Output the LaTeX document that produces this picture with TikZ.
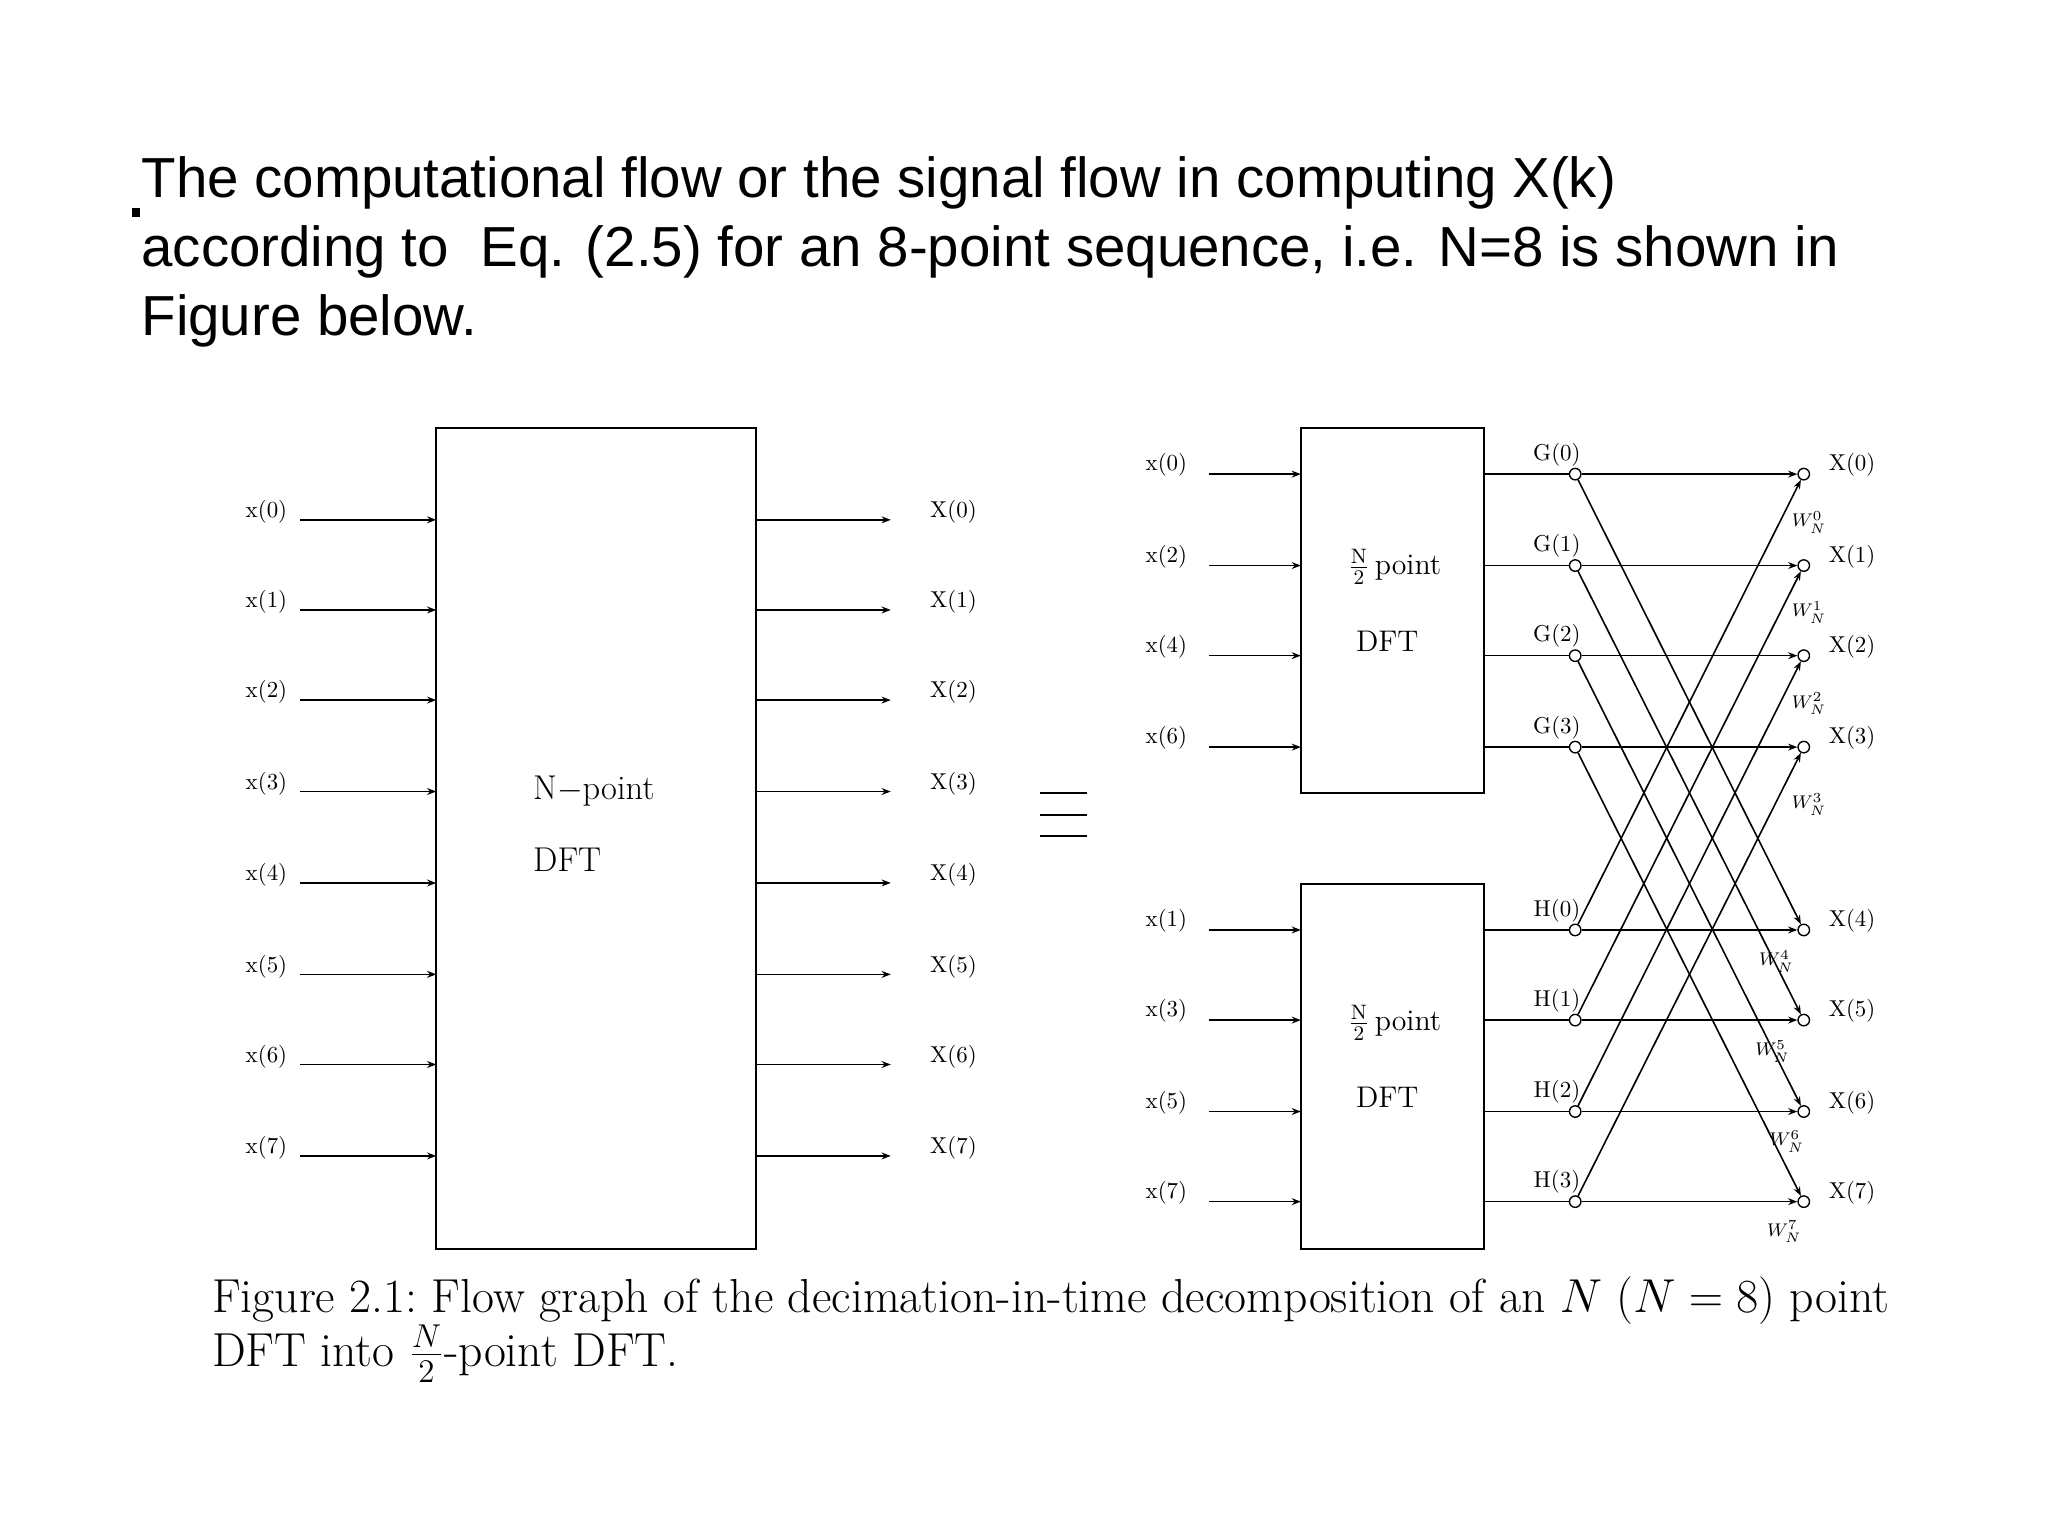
\documentclass[tikz,border=0pt]{standalone}
\usepackage{fontspec}
\newfontfamily\titlefont{Liberation Sans}
\usetikzlibrary{arrows.meta}
\begin{document}
\begin{tikzpicture}[x=0.02cm,y=-0.02cm,
  lbl/.style={font=\fontsize{10}{12}\selectfont, inner sep=1pt},
  tw/.style={font=\fontsize{8}{10}\selectfont, inner sep=0pt},
  sig/.style={line width=0.7pt,-{Stealth[length=4pt,width=3pt]}},
  wire/.style={line width=0.6pt},
  dot/.style={circle,draw,line width=0.6pt,inner sep=0pt,minimum size=5pt,fill=white},
  blk/.style={draw,line width=0.8pt,inner sep=0pt}]
\useasboundingbox (0,0) rectangle (1568,1176);
% title
\fill (101,159) rectangle (107,166);
\node[anchor=base west,font=\titlefont\fontsize{24.6}{30.2}\selectfont,align=left,inner sep=0] (title) at (108,257)
 {The computational flow or the signal flow in computing X(k)\\according to\ \ Eq. (2.5) for an 8-point sequence, i.e. N=8 is shown in\\Figure below.};
% left block
\node[blk,minimum width=245*0.02cm,minimum height=628*0.02cm] (big) at (456.5,642) {};
\node[font=\fontsize{15}{18}\selectfont,anchor=west] (np) at (402,606) {N$-$point};
\node[font=\fontsize{15}{18}\selectfont,anchor=west] (dft) at (402,658) {DFT};
\foreach \i/\y in {0/398,1/467,2/536,3/606,4/676,5/746,6/815,7/885}{
  \node[lbl] (in\i) at (204,\y-6) {x(\i)};
  \coordinate (ins\i) at (230,\y);
  \coordinate (ine\i) at (334,\y);
  \draw[sig] (ins\i) -- (ine\i);
  \coordinate (outs\i) at (579,\y);
  \coordinate (oute\i) at (682,\y);
  \draw[sig] (outs\i) -- (oute\i);
  \node[lbl] (out\i) at (730,\y-6) {X(\i)};
}
% equivalence
\foreach \y in {607,624,640}{\draw[line width=0.6pt] (796,\y) -- (832,\y);}
% right blocks
\node[blk,minimum width=140*0.02cm,minimum height=279*0.02cm] (top) at (1066,467.5) {};
\node[blk,minimum width=140*0.02cm,minimum height=279*0.02cm] (bot) at (1066,816.5) {};
\foreach \b/\yo in {top/0,bot/349}{
  \node[anchor=west,font=\fontsize{13}{15}\selectfont] at (1026,434+\yo) {$\frac{\mathrm{N}}{2}$\,point};
  \node[anchor=west,font=\fontsize{13}{15}\selectfont] at (1032,491+\yo) {DFT};
}
\foreach \i/\y in {0/363,2/433,4/502,6/572,1/712,3/781,5/851,7/920}{
  \node[lbl] (ri\i) at (893,\y-7) {x(\i)};
  \coordinate (ris\i) at (926,\y);
  \coordinate (rie\i) at (996,\y);
  \draw[sig] (ris\i) -- (rie\i);
}
% G/H nodes and outputs
\foreach \k/\y in {0/363,1/433,2/502,3/572,4/712,5/781,6/851,7/920}{
  \node[dot] (m\k) at (1206,\y) {};
  \node[dot] (o\k) at (1381,\y) {};
  \node[lbl] (X\k) at (1418,\y-7) {X(\k)};
  \draw[wire] (1136,\y) -- (m\k);
  \draw[sig] (m\k) -- (o\k);
}
\foreach \k/\y in {0/363,1/433,2/502,3/572}{\node[lbl] (G\k) at (1192,\y-15) {G(\k)};}
\foreach \k/\y in {0/712,1/781,2/851,3/920}{\node[lbl] (H\k) at (1192,\y-15) {H(\k)};}
% crossings
\foreach \a/\b in {0/4,1/5,2/6,3/7}{
  \draw[sig] (m\a) -- (o\b);
  \draw[sig] (m\b) -- (o\a);
}
% twiddles
\node[tw] (w0) at (1385,400) {$W_N^0$};
\node[tw] (w1) at (1385,469) {$W_N^1$};
\node[tw] (w2) at (1385,539) {$W_N^2$};
\node[tw] (w3) at (1385,616) {$W_N^3$};
\node[tw] (w4) at (1360,736) {$W_N^4$};
\node[tw] (w5) at (1357,805) {$W_N^5$};
\node[tw] (w6) at (1368,874) {$W_N^6$};
\node[tw] (w7) at (1366,943) {$W_N^7$};
% caption
\node[anchor=base west,align=left,inner sep=0,font=\fontsize{20.8}{23.5}\selectfont] (cap) at (162,1046)
 {Figure 2.1:\ Flow graph of the decimation-in-time decomposition of an $N$ ($N=8$) point\\DFT into $\frac{N}{2}$-point DFT.};
\end{tikzpicture}
\end{document}
